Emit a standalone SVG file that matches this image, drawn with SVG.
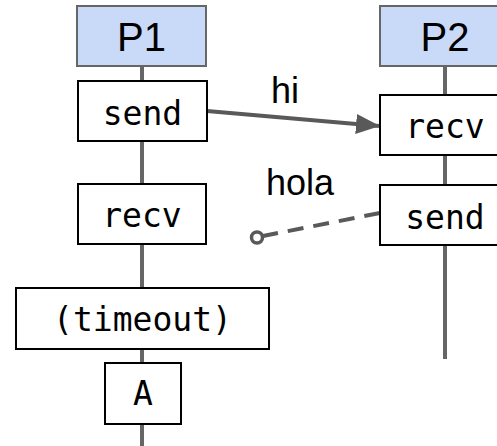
<svg xmlns="http://www.w3.org/2000/svg" width="497" height="446" viewBox="0 0 497 446">
  <defs>
    <style>
      .head { fill: #c9daf8; stroke: #666666; stroke-width: 2; }
      .step { fill: #ffffff; stroke: #000000; stroke-width: 2; }
      .life { stroke: #666666; stroke-width: 4; fill: none; }
      .msg { stroke: #595959; stroke-width: 4; fill: none; }
      .name { font-family: "Liberation Sans", Arial, sans-serif; font-size: 40px; fill: #000; text-anchor: middle; }
      .code { font-family: "DejaVu Sans Mono", "Liberation Mono", monospace; font-size: 33px; fill: #000; text-anchor: middle; }
      .label { font-family: "Liberation Sans", Arial, sans-serif; font-size: 36px; fill: #000; }
    </style>
    <marker id="arrow" viewBox="0 0 24 20" refX="23" refY="10" markerWidth="24" markerHeight="20" markerUnits="userSpaceOnUse" orient="auto">
      <path d="M0,0 L24,10 L0,20 Z" fill="#595959"/>
    </marker>
  </defs>

  <!-- lifelines and messages -->
  <g id="connectors">
    <line class="life" x1="142" y1="66" x2="142" y2="446"/>
    <line class="life" x1="445" y1="66" x2="445" y2="359"/>
    <line class="msg" x1="207" y1="111" x2="379" y2="126" marker-end="url(#arrow)"/>
    <line class="msg" x1="380" y1="213" x2="263" y2="236" stroke-dasharray="16 10"/>
    <circle cx="257" cy="237.5" r="5.5" fill="#ffffff" stroke="#595959" stroke-width="3.5"/>
  </g>

  <g id="p1-head">
    <rect class="head" x="77" y="6" width="129" height="60"/>
    <text class="name" x="141.5" y="51">P1</text>
  </g>
  <g id="p1-send">
    <rect class="step" x="78" y="81" width="129" height="60"/>
    <text class="code" x="142.5" y="125">send</text>
  </g>
  <g id="p1-recv">
    <rect class="step" x="78" y="184" width="128" height="60"/>
    <text class="code" x="142" y="227">recv</text>
  </g>
  <g id="p1-timeout">
    <rect class="step" x="16" y="288" width="253" height="61"/>
    <text class="code" x="142.5" y="331">(timeout)</text>
  </g>
  <g id="p1-a">
    <rect class="step" x="105" y="363" width="76" height="61"/>
    <text class="code" x="143" y="405">A</text>
  </g>

  <g id="p2-head">
    <rect class="head" x="380" y="6" width="130" height="60"/>
    <text class="name" x="445" y="51">P2</text>
  </g>
  <g id="p2-recv">
    <rect class="step" x="380" y="95" width="130" height="60"/>
    <text class="code" x="445" y="138">recv</text>
  </g>
  <g id="p2-send">
    <rect class="step" x="380" y="185" width="130" height="60"/>
    <text class="code" x="445" y="229">send</text>
  </g>

  <g id="labels">
    <text class="label" x="271" y="103">hi</text>
    <text class="label" x="266" y="195">hola</text>
  </g>
</svg>
